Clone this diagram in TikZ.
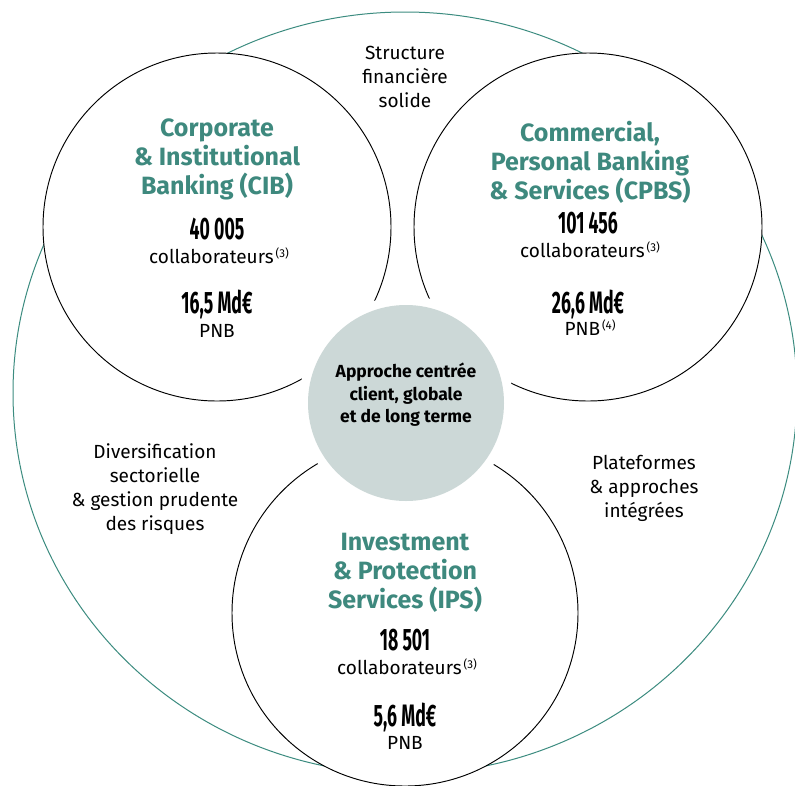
\documentclass[tikz,border=0pt]{standalone}
\usepackage{fontspec}
\setmainfont{Fira Sans}
\newfontfamily\numfont[FakeStretch=0.57]{Fira Sans}
\definecolor{tealtxt}{RGB}{62,137,126}
\definecolor{tealline}{RGB}{60,140,128}
\definecolor{coregray}{RGB}{204,216,215}
\newcommand{\supnote}[1]{\raisebox{6pt}{\fontsize{11.5}{11.5}\selectfont\,(#1)}}
\begin{document}
\begin{tikzpicture}[x=1pt,y=-1pt,
  bigcircle/.style={circle,draw=black,line width=0.95pt,fill=white,inner sep=0pt},
  title/.style={align=center,text=tealtxt,font={\fontsize{25}{29}\selectfont\bfseries}},
  num/.style={align=center,font={\numfont\fontsize{31}{31}\selectfont\bfseries}},
  body/.style={align=center,font={\fontsize{19}{24}\selectfont}},
  core/.style={align=center,font={\fontsize{17.5}{22.5}\selectfont\bfseries}}]
\useasboundingbox (0,0) rectangle (795,785);
\fill[white] (0,0) rectangle (795,785);
% outer teal ring
\draw[tealline,line width=1pt] (405,393) ellipse [x radius=392pt, y radius=381pt];
% three business circles
\node[bigcircle,minimum size=348pt] (cib) at (217,227) {};
\node[bigcircle,minimum size=348pt] (cpbs) at (588,227) {};
\node[bigcircle,minimum size=346pt] (ips) at (405,613) {};
% core
\node[circle,fill=white,minimum size=214pt,inner sep=0pt] (ring) at (406,403) {};
\node[circle,fill=coregray,minimum size=196pt,inner sep=0pt] (corec) at (406,403) {};
\node[core] (coretxt) at (406,395) {Approche centrée\\client, globale\\et de long terme};
% labels between circles
\node[body] (struct) at (405,77) {Structure\\financière\\solide};
\node[body] (divers) at (155,489) {Diversification\\sectorielle\\\&~gestion prudente\\des risques};
\node[body] (plat) at (644,488) {Plateformes\\\&~approches\\intégrées};
% CIB
\node[title] (cibt) at (217,159) {Corporate\\\&~Institutional\\Banking (CIB)};
\node[num] (cibn) at (217,229) {40 005};
\node[body] (cibc) at (219,256) {collaborateurs\supnote{3}};
\node[num] (cibp) at (217,304) {16,5 Md€};
\node[body] (cibpnb) at (217,331) {PNB};
% CPBS
\node[title] (cpbst) at (590,162) {Commercial,\\Personal Banking\\\&~Services (CPBS)};
\node[num] (cpbsn) at (588,223) {101 456};
\node[body] (cpbsc) at (590,250) {collaborateurs\supnote{3}};
\node[num] (cpbsp) at (588,304) {26,6 Md€};
\node[body] (cpbspnb) at (590,328) {PNB\supnote{4}};
% IPS
\node[title] (ipst) at (405,573) {Investment\\\&~Protection\\Services (IPS)};
\node[num] (ipsn) at (405,640) {18 501};
\node[body] (ipsc) at (407,667) {collaborateurs\supnote{3}};
\node[num] (ipsp) at (405,717) {5,6 Md€};
\node[body] (ipspnb) at (405,743) {PNB};
\end{tikzpicture}
\end{document}
